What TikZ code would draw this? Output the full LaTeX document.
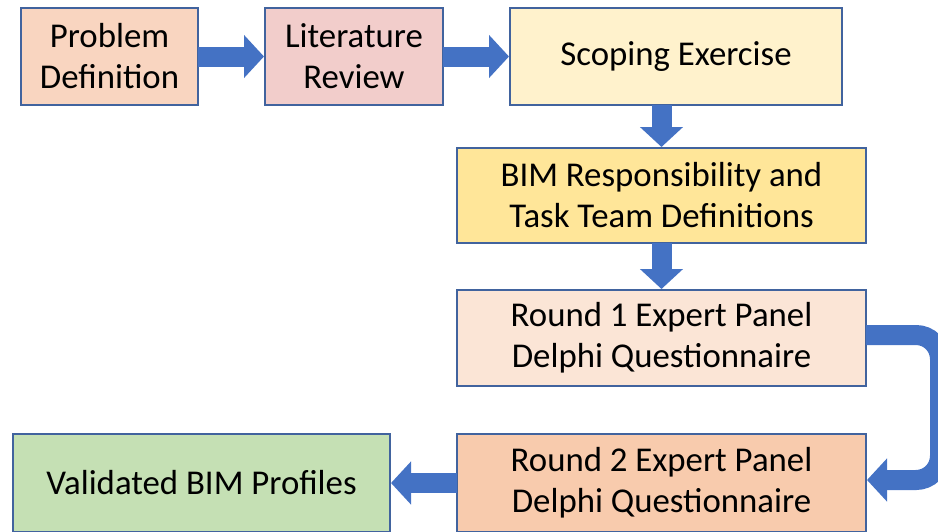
\documentclass[tikz,border=0pt]{standalone}
\usepackage{fontspec}
\setmainfont{Carlito}
\usetikzlibrary{arrows.meta}

\definecolor{edgeblue}{HTML}{41639E}
\definecolor{arrowblue}{HTML}{4472C4}
\definecolor{peach}{HTML}{F9D5C0}
\definecolor{rose}{HTML}{F2CDCB}
\definecolor{cream}{HTML}{FFF2CC}
\definecolor{gold}{HTML}{FFE699}
\definecolor{lightpeach}{HTML}{FBE5D6}
\definecolor{orangetint}{HTML}{F8CBAD}
\definecolor{greentint}{HTML}{C5E0B4}

\begin{document}
\begin{tikzpicture}[x=0.5pt, y=-0.5pt,
    stage/.style={draw=edgeblue, line width=1pt, inner sep=0pt, align=center,
      font=\fontsize{17.4}{20.5}\selectfont},
    flow/.style={draw=arrowblue, line width=10pt,
      -{Triangle[length=10pt, width=21pt]}, shorten <=-0.5pt}]
		\useasboundingbox (0,0) rectangle (938,531);
		\begin{scope}
		\clip (0,0) rectangle (938,531);
		\node (prob) [stage, fill=peach, minimum width=88.5pt, minimum height=48.5pt] at (109.5,56.5) {Problem\\Definition};
		\node (lit) [stage, fill=rose, minimum width=89pt, minimum height=48.5pt] at (354,56.5) {Literature\\Review};
		\node (scop) [stage, fill=cream, minimum width=166pt, minimum height=48.5pt] at (676,56.5) {Scoping Exercise};
		\node (bim) [stage, fill=gold, minimum width=204.5pt, minimum height=47.5pt] at (661.5,195.5) {BIM Responsibility and\\Task Team Definitions};
		\node (rnd1) [stage, fill=lightpeach, minimum width=204.5pt, minimum height=48pt] at (661.5,338) {Round 1 Expert Panel\\Delphi Questionnaire};
		\node (rnd2) [stage, fill=orangetint, minimum width=204.5pt, minimum height=49pt] at (661.5,483) {Round 2 Expert Panel\\Delphi Questionnaire};
		\node (valid) [stage, fill=greentint, minimum width=188.5pt, minimum height=49pt] at (201.5,483) {Validated BIM Profiles};
		\draw [flow] (prob) -- (lit);
		\draw [flow] (lit) -- (scop);
		\draw [flow] (scop.south -| bim) -- (bim);
		\draw [flow] (bim) -- (rnd1);
		\draw [flow] (rnd2) -- (valid);
		\draw [flow, rounded corners=12pt] (rnd1.east |- 0,335) -- (940,335) -- (940,480) -- (rnd2.east |- 0,480);
		\end{scope}
		\end{tikzpicture}
\end{document}
